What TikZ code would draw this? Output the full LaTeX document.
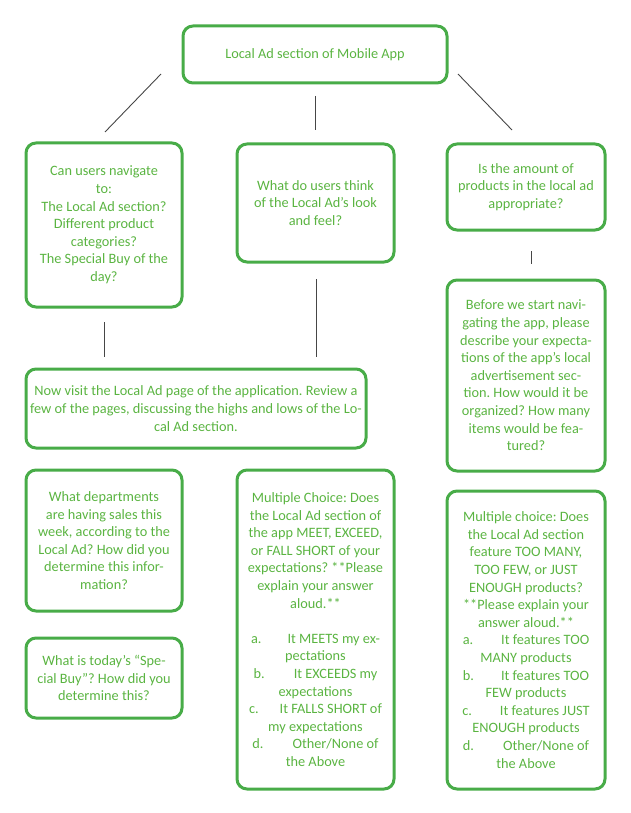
\documentclass[tikz,border=0pt]{standalone}
\usepackage{fontspec}
\setmainfont{Carlito}
\frenchspacing
\definecolor{bordergreen}{RGB}{72,172,72}
\definecolor{textgreen}{RGB}{90,180,65}
\definecolor{linegray}{RGB}{70,70,70}
\begin{document}
\begin{tikzpicture}[x=1pt,y=-1pt,
  qbox/.style={draw=bordergreen, line width=3pt, rounded corners=10pt, text=textgreen,
    align=center, font=\fontsize{14.3}{17.6}\selectfont\frenchspacing, inner sep=0pt, anchor=center},
  conn/.style={draw=linegray, line width=0.9pt}]
\useasboundingbox (0,0) rectangle (630,813);
% boxes
\node[qbox, minimum width=264pt, minimum height=57pt] (top) at (315,54.5) {Local Ad section of Mobile App};
\node[qbox, minimum width=156pt, minimum height=164pt] (nav) at (104,225)
  {Can users navigate\\to:\\The Local Ad section?\\Different product\\categories?\\The Special Buy of the\\day?};
\node[qbox, minimum width=157pt, minimum height=118pt] (look) at (315.5,203)
  {What do users think\\of the Local Ad’s look\\and feel?};
\node[qbox, minimum width=158pt, minimum height=86pt] (amount) at (526,187)
  {Is the amount of\\products in the local ad\\appropriate?};
\node[qbox, minimum width=158pt, minimum height=191pt] (before) at (526,375.5)
  {Before we start navi-\\gating the app, please\\describe your expecta-\\tions of the app’s local\\advertisement sec-\\tion. How would it be\\organized? How many\\items would be fea-\\tured?};
\node[qbox, minimum width=340pt, minimum height=79pt] (visit) at (196,408.5)
  {Now visit the Local Ad page of the application. Review a\\few of the pages, discussing the highs and lows of the Lo-\\cal Ad section.};
\node[qbox, minimum width=156pt, minimum height=141pt] (dept) at (104,540.5)
  {What departments\\are having sales this\\week, according to the\\Local Ad? How did you\\determine this infor-\\mation?};
\node[qbox, minimum width=156pt, minimum height=80pt] (special) at (104,678)
  {What is today’s “Spe-\\cial Buy”? How did you\\determine this?};
\node[qbox, minimum width=157pt, minimum height=319pt] (meet) at (315.5,629.5)
  {Multiple Choice: Does\\the Local Ad section of\\the app MEET, EXCEED,\\or FALL SHORT of your\\expectations? **Please\\explain your answer\\aloud.**\\[17.6pt]
   a.\hspace{26pt}It MEETS my ex-\\pectations\\b.\hspace{29pt}It EXCEEDS my\\expectations\\c.\hspace{21pt}It FALLS SHORT of\\my expectations\\d.\hspace{29pt}Other/None of\\the Above};
\node[qbox, minimum width=158pt, minimum height=298pt] (many) at (526,640)
  {Multiple choice: Does\\the Local Ad section\\feature TOO MANY,\\TOO FEW, or JUST\\ENOUGH products?\\**Please explain your\\answer aloud.**\\
   a.\hspace{28pt}It features TOO\\MANY products\\b.\hspace{27pt}It features TOO\\FEW products\\c.\hspace{28pt}It features JUST\\ENOUGH products\\d.\hspace{29pt}Other/None of\\the Above};
% connector end points
\coordinate (l1a) at (161,74);  \coordinate (l1b) at (105,132);
\coordinate (l2a) at (315,96);  \coordinate (l2b) at (315,130);
\coordinate (l3a) at (458,74);  \coordinate (l3b) at (512,130);
\coordinate (l4a) at (104,322); \coordinate (l4b) at (104,357);
\coordinate (l5a) at (316,279); \coordinate (l5b) at (316,357);
\coordinate (l6a) at (531,251); \coordinate (l6b) at (531,264);
\draw[conn] (l1a) -- (l1b);
\draw[conn] (l2a) -- (l2b);
\draw[conn] (l3a) -- (l3b);
\draw[conn] (l4a) -- (l4b);
\draw[conn] (l5a) -- (l5b);
\draw[conn] (l6a) -- (l6b);
\end{tikzpicture}
\end{document}
